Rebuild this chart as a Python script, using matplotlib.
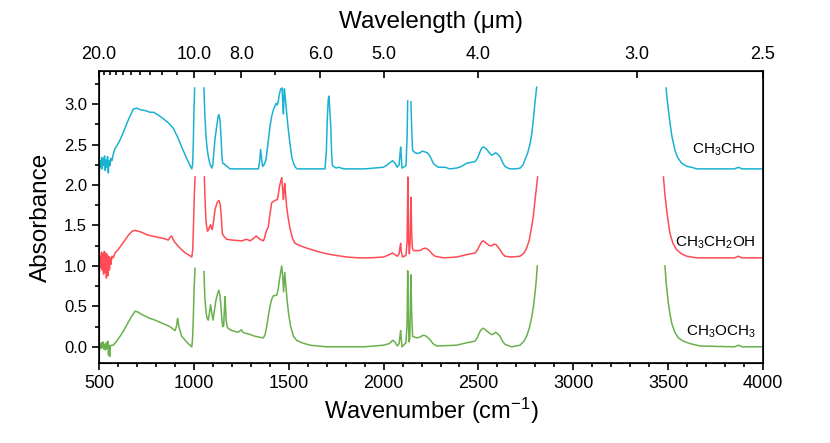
import numpy as np
import matplotlib
matplotlib.use("Agg")
import matplotlib.pyplot as plt
from matplotlib.ticker import MultipleLocator, FixedLocator, FormatStrFormatter

plt.rcParams['font.family'] = ['Liberation Sans', 'DejaVu Sans']
plt.rcParams['mathtext.fontset'] = 'custom'
plt.rcParams['mathtext.rm'] = 'Liberation Sans'
plt.rcParams['mathtext.it'] = 'Liberation Sans:italic'

nan = np.nan

# CH3CHO (offset +2.2), gaps (saturated bands) marked with nan
wn_cho = [502, 506, 510, 514, 517, 521, 525, 529, 533, 537, 541, 545, 549, 553, 557, 562,
          568, 575, 584, 600, 611, 630, 646, 665, 681, 699, 720, 745, 769, 787, 810, 839, 865,
          892, 915, 936, 960, 980, 989, 993, 997, 1000, 1004,
          nan, 1053, 1058, 1064, 1070, 1076, 1085, 1094, 1100, 1105, 1111, 1120, 1128, 1132,
          1138, 1143, 1148, 1152, 1160, 1170, 1180, 1190,
          1260, 1340, 1346, 1352, 1357, 1363, 1370, 1380, 1390, 1401, 1410, 1419, 1433, 1440,
          1446, 1451, 1458, 1465, 1469, 1472, 1475, 1477, 1481, 1486, 1492, 1498, 1507, 1516,
          1525, 1535, 1545, 1600, 1691, 1698, 1703, 1708, 1712, 1716, 1722, 1726, 1730, 1750,
          1763, 1790, 1900, 1999, 2020, 2040, 2048, 2060, 2072, 2082, 2087, 2090, 2093, 2097,
          2105, 2118, 2124, 2127, nan, 2144, 2148, 2153, 2166, 2180, 2192, 2205, 2218, 2230,
          2241, 2252, 2262, 2275, 2289, 2324, 2350, 2385, 2410, 2438, 2460, 2482, 2495, 2508,
          2518, 2526, 2535, 2544, 2557, 2570, 2580, 2591, 2602, 2614, 2627, 2640, 2655, 2667,
          2700, 2720, 2735, 2745, 2760, 2772, 2782, 2789, 2797, 2807,
          nan, 3489, 3495, 3500, 3510, 3520, 3536, 3550, 3571, 3600, 3624, 3650, 3700, 3850,
          3870, 3890, 4000]
ab_cho = [2.17, 2.30, 2.22, 2.34, 2.20, 2.33, 2.24, 2.36, 2.18, 2.31, 2.22, 2.35, 2.15, 2.30, 2.24, 2.33,
          2.30, 2.38, 2.45, 2.51, 2.56, 2.66, 2.76, 2.86, 2.94, 2.95, 2.93, 2.92, 2.90, 2.90, 2.87, 2.82, 2.77,
          2.70, 2.59, 2.47, 2.34, 2.24, 2.20, 2.25, 2.50, 2.90, 3.20,
          nan, 3.20, 2.85, 2.60, 2.45, 2.35, 2.26, 2.21, 2.25, 2.40, 2.56, 2.72, 2.85, 2.87,
          2.80, 2.60, 2.35, 2.27, 2.26, 2.24, 2.22, 2.20,
          2.20, 2.20, 2.28, 2.44, 2.32, 2.23, 2.25, 2.31, 2.50, 2.72, 2.85, 2.93, 3.01, 2.99,
          3.05, 3.13, 3.19, 3.20, 3.00, 2.88, 3.10, 3.19, 3.10, 2.97, 2.82, 2.68, 2.50, 2.35,
          2.27, 2.22, 2.20, 2.20, 2.20, 2.40, 2.80, 3.05, 3.10, 2.95, 2.70, 2.40, 2.24, 2.21,
          2.22, 2.20, 2.20, 2.22, 2.25, 2.29, 2.30, 2.27, 2.22, 2.25, 2.40, 2.47, 2.35, 2.21,
          2.22, 2.24, 2.60, 3.04, nan, 3.03, 2.70, 2.43, 2.40, 2.39, 2.40, 2.42, 2.41, 2.40,
          2.37, 2.32, 2.27, 2.24, 2.22, 2.22, 2.20, 2.21, 2.23, 2.27, 2.28, 2.29, 2.33, 2.41,
          2.46, 2.47, 2.46, 2.44, 2.40, 2.37, 2.38, 2.40, 2.38, 2.35, 2.28, 2.23, 2.21, 2.20,
          2.20, 2.21, 2.25, 2.31, 2.40, 2.51, 2.65, 2.80, 3.00, 3.21,
          nan, 3.20, 3.05, 2.95, 2.76, 2.60, 2.43, 2.34, 2.27, 2.23, 2.22, 2.20, 2.20, 2.20,
          2.22, 2.20, 2.20]

# CH3CH2OH (offset +1.1)
wn_oh = [502, 506, 509, 513, 517, 520, 524, 528, 531, 535, 539, 543, 547, 551, 555, 559, 563, 568,
         575, 584, 600, 619, 640, 655, 675, 690, 720, 760, 800, 840, 865, 876, 883, 890, 897, 915,
         936, 955, 970, 989, 994, 998, 1002, 1006,
         nan, 1055, 1060, 1064, 1067, 1072, 1076, 1082, 1088, 1092, 1097, 1104, 1111, 1122, 1132,
         1138, 1143, 1147, 1150, 1160, 1173, 1200, 1252, 1278, 1296, 1315, 1328, 1338, 1348, 1366,
         1373, 1380, 1386, 1392, 1400, 1410, 1420, 1428, 1440, 1446, 1451, 1458, 1463, 1468, 1472,
         1476, 1479, 1484, 1489, 1498, 1507, 1520, 1533, 1560, 1595, 1650, 1700, 1750, 1806, 1870,
         1928, 2000, 2030, 2048, 2060, 2072, 2082, 2087, 2090, 2093, 2100, 2118, 2124, 2128, 2132,
         2136, 2140, 2144, 2148, 2152, 2157, 2175, 2192, 2205, 2218, 2230, 2241, 2255, 2271, 2315,
         2385, 2438, 2482, 2495, 2508, 2518, 2526, 2537, 2547, 2558, 2570, 2582, 2594, 2604, 2614,
         2627, 2640, 2675, 2719, 2740, 2754, 2768, 2781, 2790, 2798, 2806, 2812,
         nan, 3475, 3483, 3492, 3500, 3510, 3525, 3545, 3570, 3598, 3650, 3850, 3870, 3890, 4000]
ab_oh = [0.93, 1.12, 0.98, 1.17, 0.95, 1.15, 0.90, 1.18, 0.92, 1.16, 0.85, 1.14, 0.88, 1.12, 0.95, 1.10, 1.02, 1.12,
         1.10, 1.16, 1.20, 1.26, 1.33, 1.38, 1.43, 1.44, 1.42, 1.38, 1.36, 1.34, 1.32, 1.36, 1.37, 1.33, 1.30, 1.25,
         1.20, 1.16, 1.14, 1.11, 1.20, 1.50, 1.85, 2.10,
         nan, 2.10, 1.75, 1.55, 1.49, 1.43, 1.44, 1.48, 1.51, 1.47, 1.45, 1.55, 1.69, 1.78, 1.81,
         1.77, 1.66, 1.50, 1.40, 1.36, 1.33, 1.32, 1.31, 1.33, 1.31, 1.34, 1.37, 1.35, 1.33, 1.31,
         1.35, 1.42, 1.45, 1.48, 1.62, 1.78, 1.80, 1.81, 1.82, 1.90, 1.98, 2.05, 2.09, 1.95, 1.82,
         1.95, 2.02, 1.88, 1.73, 1.58, 1.46, 1.34, 1.28, 1.25, 1.22, 1.18, 1.15, 1.13, 1.11, 1.10,
         1.10, 1.11, 1.14, 1.16, 1.14, 1.12, 1.15, 1.24, 1.28, 1.18, 1.11, 1.13, 1.30, 2.10, 1.30,
         1.15, 1.30, 1.85, 1.40, 1.22, 1.19, 1.19, 1.19, 1.21, 1.22, 1.21, 1.19, 1.15, 1.12, 1.10,
         1.11, 1.14, 1.16, 1.20, 1.26, 1.30, 1.31, 1.29, 1.27, 1.25, 1.25, 1.27, 1.26, 1.23, 1.20,
         1.15, 1.12, 1.11, 1.12, 1.16, 1.22, 1.32, 1.49, 1.63, 1.81, 1.97, 2.10,
         nan, 2.10, 1.88, 1.69, 1.55, 1.40, 1.28, 1.20, 1.15, 1.12, 1.10, 1.10, 1.12, 1.10, 1.10]

# CH3OCH3 (no offset)
wn_me = [502, 506, 510, 514, 518, 522, 526, 530, 534, 538, 542, 546, 550, 553, 556, 560, 565, 575,
         590, 611, 630, 646, 670, 690, 705, 725, 760, 795, 835, 874, 900, 908, 914, 918, 923, 936,
         955, 970, 989, 993, 997, 1001, 1006,
         nan, 1053, 1058, 1064, 1070, 1076, 1082, 1088, 1094, 1101, 1108, 1115, 1124, 1132, 1138,
         1143, 1148, 1152, 1157, 1161, 1164, 1167, 1170, 1175, 1180, 1200, 1233, 1245, 1251, 1258,
         1269, 1300, 1322, 1366, 1375, 1384, 1395, 1405, 1412, 1419, 1437, 1445, 1451, 1458, 1463,
         1468, 1473, 1476, 1479, 1485, 1493, 1500, 1510, 1525, 1542, 1570, 1612, 1700, 1900, 2000,
         2030, 2048, 2060, 2072, 2082, 2087, 2090, 2093, 2097, 2118, 2124, 2127, 2130, 2134, 2138,
         2141, 2144, 2148, 2153, 2175, 2192, 2205, 2218, 2230, 2244, 2260, 2280, 2385, 2438, 2482,
         2495, 2508, 2518, 2526, 2537, 2547, 2558, 2570, 2580, 2591, 2602, 2614, 2627, 2640, 2675,
         2719, 2740, 2754, 2768, 2781, 2790, 2798, 2805, 2810,
         nan, 3483, 3490, 3501, 3510, 3519, 3535, 3554, 3580, 3615, 3668, 3850, 3870, 3890, 4000]
ab_me = [-0.03, 0.04, -0.02, 0.05, -0.01, 0.06, -0.03, 0.03, -0.04, 0.05, -0.02, 0.07, -0.10, 0.02, -0.12, 0.01, 0.02, 0.02,
         0.06, 0.13, 0.20, 0.27, 0.37, 0.44, 0.43, 0.40, 0.36, 0.33, 0.29, 0.25, 0.20, 0.25, 0.35, 0.30, 0.23, 0.13,
         0.08, 0.04, 0.00, 0.10, 0.35, 0.70, 0.97,
         nan, 0.93, 0.60, 0.43, 0.35, 0.33, 0.42, 0.52, 0.42, 0.33, 0.45, 0.56, 0.65, 0.70, 0.63,
         0.49, 0.33, 0.25, 0.26, 0.45, 0.62, 0.50, 0.33, 0.25, 0.23, 0.20, 0.18, 0.20, 0.21, 0.18,
         0.17, 0.15, 0.13, 0.11, 0.15, 0.25, 0.42, 0.54, 0.60, 0.63, 0.64, 0.72, 0.83, 0.93, 1.00,
         0.88, 0.68, 0.80, 0.92, 0.75, 0.54, 0.40, 0.25, 0.13, 0.08, 0.05, 0.02, 0.00, 0.00, 0.02,
         0.04, 0.08, 0.06, 0.01, 0.04, 0.15, 0.20, 0.10, 0.00, 0.05, 0.30, 0.94, 0.40, 0.06, 0.10,
         0.50, 0.89, 0.40, 0.13, 0.11, 0.12, 0.14, 0.14, 0.12, 0.09, 0.04, 0.01, 0.02, 0.05, 0.07,
         0.12, 0.19, 0.22, 0.23, 0.21, 0.19, 0.17, 0.15, 0.16, 0.18, 0.16, 0.13, 0.07, 0.03, 0.00,
         0.02, 0.07, 0.13, 0.23, 0.37, 0.50, 0.66, 0.83, 1.00,
         nan, 1.00, 0.78, 0.54, 0.40, 0.29, 0.18, 0.11, 0.07, 0.04, 0.01, 0.00, 0.02, 0.00, 0.00]

names = ['CH$_3$CHO', 'CH$_3$CH$_2$OH', 'CH$_3$OCH$_3$']
name_y = [2.43, 1.28, 0.19]
colors = ['#1ab2d0', '#ff4b55', '#6ab04c']

top_major = [20.0, 10.0, 8.0, 6.0, 5.0, 4.0, 3.0, 2.5]
top_minor = [19, 18, 17, 16, 15, 14, 13, 12, 11, 9, 7]

fig = plt.figure(figsize=(8.3, 4.43), dpi=100)
ax = fig.add_axes([0.1193, 0.1806, 0.8, 0.6591])

for wn, ab, c in zip([wn_cho, wn_oh, wn_me], [ab_cho, ab_oh, ab_me], colors):
    ax.plot(wn, ab, color=c, lw=1.1)

for name, y in zip(names, name_y):
    ax.text(3960, y, name, ha='right', va='center', fontsize=11)

ax.set_xlim(500, 4000)
ax.set_ylim(-0.2, 3.41)
ax.xaxis.set_major_locator(MultipleLocator(500))
ax.xaxis.set_minor_locator(MultipleLocator(100))
ax.yaxis.set_major_locator(MultipleLocator(0.5))
ax.yaxis.set_minor_locator(MultipleLocator(0.25))
ax.yaxis.set_major_formatter(FormatStrFormatter('%.1f'))
ax.tick_params(which='both', direction='out', labelsize=12, width=1.2)
ax.tick_params(axis='x', labelsize=13)
ax.tick_params(which='major', length=5)
ax.tick_params(which='minor', length=3)
for s in ax.spines.values():
    s.set_linewidth(1.2)

ax.set_xlabel('Wavenumber (cm$^{-1}$)', fontsize=17, labelpad=3)
ax.set_ylabel('Absorbance', fontsize=17.5, labelpad=9)

# wavelength axis on top
top = ax.twiny()
top.set_xlim(ax.get_xlim())
top.xaxis.set_major_locator(FixedLocator([1e4 / w for w in top_major]))
top.xaxis.set_minor_locator(FixedLocator([1e4 / w for w in top_minor]))
top.set_xticklabels(['%.1f' % w for w in top_major])
top.tick_params(which='both', direction='in', labelsize=13, width=1.2, pad=6)
top.tick_params(which='major', length=5)
top.tick_params(which='minor', length=3)
top.set_xlabel('Wavelength (μm)', fontsize=17.5, labelpad=13)

fig.savefig('out.png', dpi=100)
